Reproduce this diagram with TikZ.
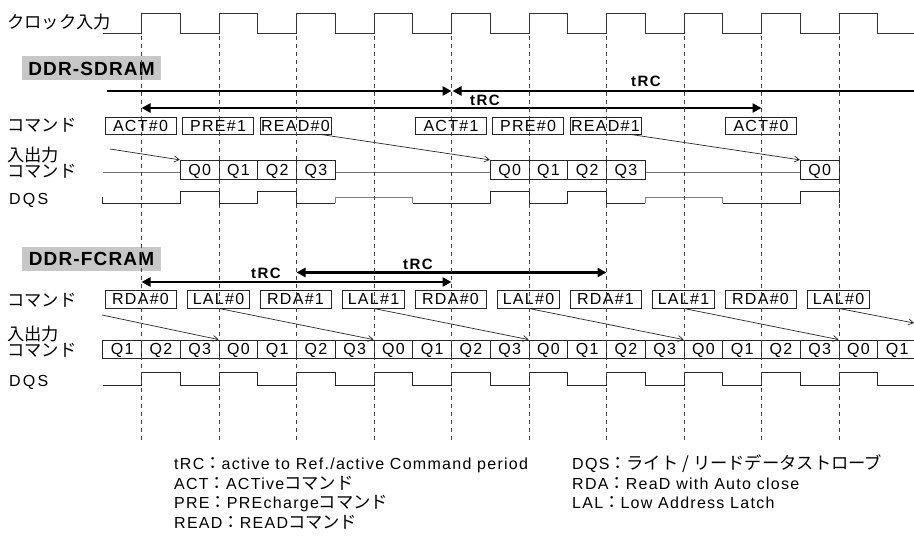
\documentclass[tikz,border=0pt]{standalone}
\usepackage{fontspec}
\setmainfont{Liberation Sans}[LetterSpace=8]
\newfontfamily\jp{Noto Sans CJK JP}[Scale=1.08]
\usetikzlibrary{arrows.meta}
\newcommand\J[1]{{\jp #1}}
\begin{document}
\begin{tikzpicture}[x=1pt,y=-1pt,
  every node/.style={inner sep=0pt, font=\fontsize{16}{17}\selectfont},
  >={Triangle[length=9pt,width=9pt]},
  clk/.style={line width=0.9pt, draw=black!80},
  vline/.style={line width=0.8pt, draw=black!75, dash pattern=on 4pt off 4pt},
  titlebox/.style={fill=black!22, minimum width=139pt, minimum height=24pt,
    font=\fontsize{19}{20}\selectfont\bfseries\addfontfeature{LetterSpace=6},
    text height=13.6pt, text depth=0pt},
  trc/.style={line width=2.4pt, draw=black},
  trclab/.style={font=\fontsize{15}{16}\selectfont\bfseries\addfontfeature{LetterSpace=10},
    text height=11pt, text depth=0pt},
  cmd/.style={draw=black!85, line width=0.8pt, minimum height=17pt, text height=11.4pt, text depth=0pt},
  cmdf/.style={cmd, minimum height=18pt},
  dbox/.style={draw=black!85, line width=0.8pt, fill=white, minimum width=38.75pt,
    minimum height=19pt, text height=11.4pt, text depth=0pt},
  fbox/.style={dbox, minimum height=18pt},
  darr/.style={line width=0.7pt, draw=black!85, -{Straight Barb[length=5pt,width=6pt]}},
  wave/.style={line width=0.9pt, draw=black!85},
  midw/.style={line width=0.9pt, draw=black!50},
  io/.style={line width=0.8pt, draw=black!55},
  lab/.style={anchor=base west},
  slab/.style={anchor=base west, font=\fontsize{16}{17}\selectfont\addfontfeature{LetterSpace=14}}
]
\useasboundingbox (0,0) rectangle (914,540);
\clip (0,0) rectangle (914,540);

% clock
\node[lab] (clkl) at (7,29) {\J{クロック入力}};
\draw[clk] (103,33) \foreach \k in {0,...,9}{ -- ({141.5+77.5*\k},33) -- ({141.5+77.5*\k},13) -- ({180.25+77.5*\k},13) -- ({180.25+77.5*\k},33)} -- (914,33);

% ---------------- DDR-SDRAM ----------------
\node[titlebox] (sdt) at (91.5,68.5) {DDR-SDRAM};

\coordinate (s1a) at (107,91);
\coordinate (s1b) at (451.5,91);
\coordinate (s2a) at (452.5,91);
\coordinate (s2b) at (914,91);
\coordinate (s3a) at (141.5,108);
\coordinate (s3b) at (761.5,108);
\draw[trc,->] (s1a) -- (s1b);
\draw[trc,<-] (s2a) -- (s2b);
\draw[trc,<->] (s3a) -- (s3b);
\node[trclab] (st2) at (646,81.5) {tRC};
\node[trclab] (st3) at (485,100) {tRC};

\node[lab] (scl) at (7,131.5) {\J{コマンド}};
\node[cmd, minimum width=71pt] (sc1) at (140.5,125.5) {ACT\#0};
\node[cmd, minimum width=71pt] (sc2) at (218,125.5) {PRE\#1};
\node[cmd, minimum width=71pt] (sc3) at (295.5,125.5) {READ\#0};
\node[cmd, minimum width=71pt] (sc4) at (451,125.5) {ACT\#1};
\node[cmd, minimum width=71pt] (sc5) at (528,125.5) {PRE\#0};
\node[cmd, minimum width=71pt] (sc6) at (605.5,125.5) {READ\#1};
\node[cmd, minimum width=71pt] (sc7) at (761,125.5) {ACT\#0};

\node[lab] (siol1) at (7,162) {\J{入出力}};
\node[lab] (siol2) at (7,178) {\J{コマンド}};
\draw[io] (103,172.5) -- (800.25,172.5);
\node[dbox] (sd1) at (199.625,169.75) {Q0};
\node[dbox] (sd2) at (238.375,169.75) {Q1};
\node[dbox] (sd3) at (277.125,169.75) {Q2};
\node[dbox] (sd4) at (315.875,169.75) {Q3};
\node[dbox] (sd5) at (509.625,169.75) {Q0};
\node[dbox] (sd6) at (548.375,169.75) {Q1};
\node[dbox] (sd7) at (587.125,169.75) {Q2};
\node[dbox] (sd8) at (625.875,169.75) {Q3};
\node[dbox] (sd9) at (819.625,169.75) {Q0};

\coordinate (sin) at (110,149);
\draw[darr] (sin) -- (sd1.north west);
\draw[darr] ([xshift=-11pt]sc3.south east) -- (sd5.north west);
\draw[darr] ([xshift=-11pt]sc6.south east) -- (sd9.north west);

\node[slab] (sdqs) at (9,205) {DQS};
\draw[wave] (102,197.5) -- (102,203) -- (180.25,203) -- (180.25,191) -- (219,191) -- (219,203)
  -- (257.75,203) -- (257.75,191) -- (296.5,191) -- (296.5,203) -- (335.25,203);
\draw[midw] (335.25,203) -- (335.25,197.5) -- (412.75,197.5) -- (412.75,203);
\draw[wave] (412.75,203) -- (490.25,203) -- (490.25,191) -- (529,191) -- (529,203)
  -- (567.75,203) -- (567.75,191) -- (606.5,191) -- (606.5,203) -- (645.25,203);
\draw[midw] (645.25,203) -- (645.25,197.5) -- (722.75,197.5) -- (722.75,203);
\draw[wave] (722.75,203) -- (800.25,203) -- (800.25,191) -- (839,191) -- (839,203);

% ---------------- DDR-FCRAM ----------------
\node[titlebox] (fct) at (91.5,259) {DDR-FCRAM};

\coordinate (f1a) at (141.5,282);
\coordinate (f1b) at (451.5,282);
\coordinate (f2a) at (296.5,272.5);
\coordinate (f2b) at (606.5,272.5);
\draw[trc,<->] (f1a) -- (f1b);
\draw[trc,<->] (f2a) -- (f2b);
\node[trclab] (ft1) at (266,273.5) {tRC};
\node[trclab] (ft2) at (418,264) {tRC};

\node[lab] (fcl) at (7,306.5) {\J{コマンド}};
\node[cmdf, minimum width=71pt] (fc0) at (140.5,299) {RDA\#0};
\node[cmdf, minimum width=62pt] (fc1) at (218.5,299) {LAL\#0};
\node[cmdf, minimum width=71pt] (fc2) at (295.5,299) {RDA\#1};
\node[cmdf, minimum width=62pt] (fc3) at (373.5,299) {LAL\#1};
\node[cmdf, minimum width=71pt] (fc4) at (450.5,299) {RDA\#0};
\node[cmdf, minimum width=62pt] (fc5) at (528.5,299) {LAL\#0};
\node[cmdf, minimum width=71pt] (fc6) at (605.5,299) {RDA\#1};
\node[cmdf, minimum width=62pt] (fc7) at (683.5,299) {LAL\#1};
\node[cmdf, minimum width=71pt] (fc8) at (760.5,299) {RDA\#0};
\node[cmdf, minimum width=62pt] (fc9) at (838.5,299) {LAL\#0};

\node[lab] (fiol1) at (7,341) {\J{入出力}};
\node[lab] (fiol2) at (7,356.5) {\J{コマンド}};
\foreach \i in {0,...,20}{
  \pgfmathtruncatemacro\q{mod(\i+1,4)}
  \node[fbox] (fd\i) at ({122.125+38.75*\i},349) {Q\q};
}

\coordinate (fin) at (102,315);
\coordinate (fout) at (914,323);
\draw[darr] (fin) -- (fd3.north west);
\draw[darr] (fc1.south) -- (fd7.north west);
\draw[darr] (fc3.south) -- (fd11.north west);
\draw[darr] (fc5.south) -- (fd15.north west);
\draw[darr] (fc7.south) -- (fd19.north west);
\draw[darr] (fc9.south) -- (fout);

\node[slab] (fdqs) at (9,386) {DQS};
\draw[wave] (103,385) \foreach \k in {0,...,9}{ -- ({141.5+77.5*\k},385) -- ({141.5+77.5*\k},372) -- ({180.25+77.5*\k},372) -- ({180.25+77.5*\k},385)} -- (914,385);

% dashed clock guides
\foreach \k in {0,...,9}{
  \draw[vline] ({141.5+77.5*\k},36) -- ({141.5+77.5*\k},440);
}

% ---------------- legend ----------------
\node[lab] (lg1) at (174,469.5) {tRC\J{：}active to Ref./active Command period};
\node[lab] (lg2) at (174,489.2) {ACT\J{：}ACTive\J{コマンド}};
\node[lab] (lg3) at (174,508.9) {PRE\J{：}PREcharge\J{コマンド}};
\node[lab] (lg4) at (174,528.6) {READ\J{：}READ\J{コマンド}};
\node[lab] (rg1) at (572,469.5) {DQS\J{：ライト / リードデータストローブ}};
\node[lab] (rg2) at (572,489.2) {RDA\J{：}ReaD with Auto close};
\node[lab] (rg3) at (572,508.9) {LAL\J{：}Low Address Latch};
\end{tikzpicture}
\end{document}
